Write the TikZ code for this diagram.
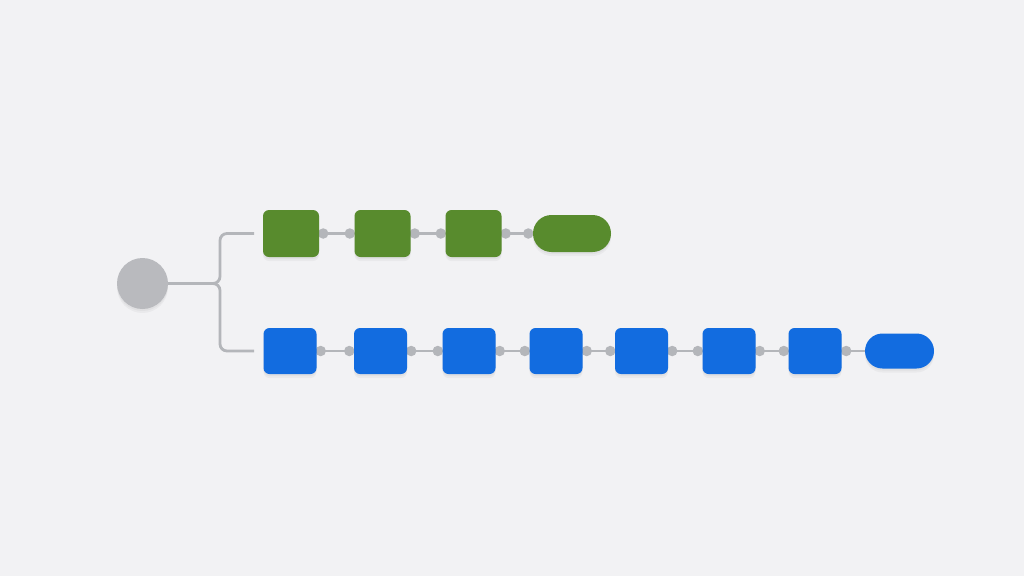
\documentclass[tikz,border=0pt]{standalone}
\usetikzlibrary{calc}
\definecolor{bg}{HTML}{F2F2F4}
\definecolor{gnode}{HTML}{588B2D}
\definecolor{bnode}{HTML}{126CE0}
\definecolor{gline}{HTML}{B4B6BA}
\definecolor{gcirc}{HTML}{B9BABE}
\pgfdeclarelayer{back}
\pgfdeclarelayer{links}
\pgfsetlayers{back,links,main}
\tikzset{
  x=1pt,y=-1pt,
  soft/.style={preaction={fill=black,fill opacity=0.035,transform canvas={yshift=-4pt}},
               preaction={fill=black,fill opacity=0.035,transform canvas={yshift=-2pt}}},
  gbox/.style={rectangle,rounded corners=6pt,fill=gnode,minimum width=56pt,minimum height=47pt,inner sep=0pt,soft},
  bbox/.style={rectangle,rounded corners=6pt,fill=bnode,minimum width=53pt,minimum height=46pt,inner sep=0pt,soft},
  gpill/.style={rectangle,rounded corners=18.5pt,fill=gnode,minimum width=78pt,minimum height=37pt,inner sep=0pt,soft},
  bpill/.style={rectangle,rounded corners=17.5pt,fill=bnode,minimum width=69pt,minimum height=35pt,inner sep=0pt,soft},
  link/.style={draw=gline,line width=2.8pt},
  dot/.style={circle,fill=gline,inner sep=0pt,minimum size=10.5pt},
}
\begin{document}
\begin{tikzpicture}
\begin{pgfonlayer}{back}
\fill[bg] (0,0) rectangle (1024,576);
\end{pgfonlayer}
\useasboundingbox (0,0) rectangle (1024,576);
% root
\node[circle,fill=gcirc,minimum size=51pt,inner sep=0pt,soft] (root) at (142.5,283.5) {};
% green row
\node[gbox] (g1) at (291,233.5) {};
\node[gbox] (g2) at (382.5,233.5) {};
\node[gbox] (g3) at (473.5,233.5) {};
\node[gpill] (g4) at (572,233.5) {};
% blue row
\node[bbox] (b1) at (290,351) {};
\node[bbox] (b2) at (380.5,351) {};
\node[bbox] (b3) at (469,351) {};
\node[bbox] (b4) at (556,351) {};
\node[bbox] (b5) at (641.5,351) {};
\node[bbox] (b6) at (729,351) {};
\node[bbox] (b7) at (815,351) {};
\node[bpill] (b8) at (899.5,351) {};
\begin{pgfonlayer}{links}
% branch
\coordinate (gin) at (254,233.5);
\coordinate (bin) at (254,351);
\draw[link,rounded corners=7pt] (root.east) -- (220,283.5) |- (gin);
\draw[link,rounded corners=7pt] (root.east) -- (220,283.5) |- (bin);
% links
\foreach \a/\b in {g1/g2,g2/g3,g3/g4,b1/b2,b2/b3,b3/b4,b4/b5,b5/b6,b6/b7}{
  \draw[link] (\a.east) -- (\b.west);
  \node[dot] at ($(\a.east)+(4,0)$) {};
  \node[dot] at ($(\b.west)+(-4.5,0)$) {};
}
\draw[link] (b7.east) -- (b8.west);
\node[dot] at ($(b7.east)+(4.5,0)$) {};
\end{pgfonlayer}
\end{tikzpicture}
\end{document}
